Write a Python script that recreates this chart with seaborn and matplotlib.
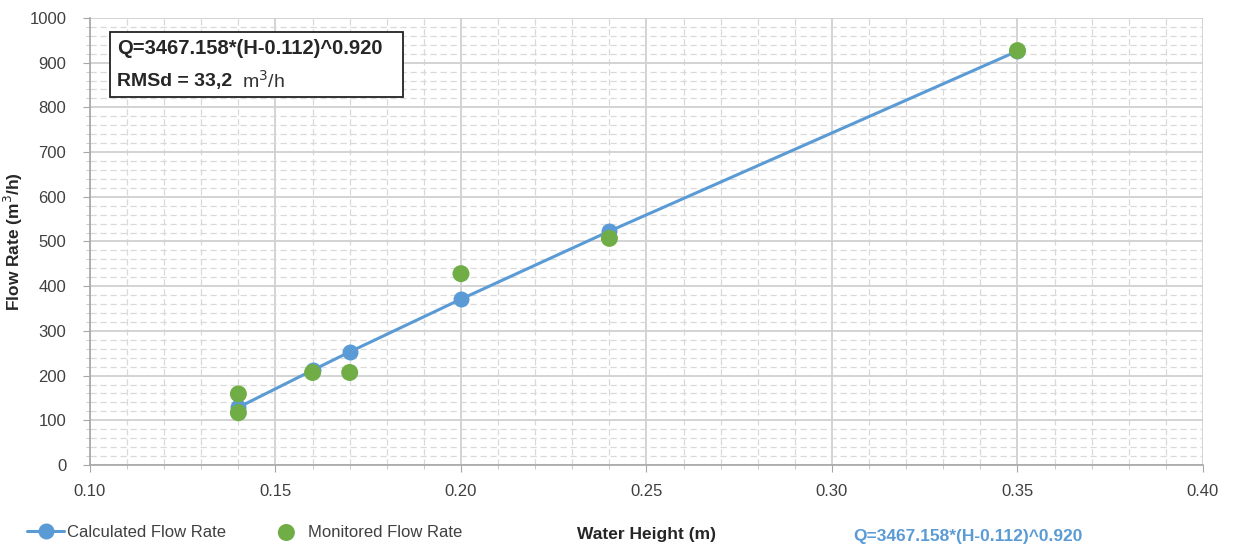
import pandas as pd
import matplotlib.pyplot as plt
import seaborn as sns
from matplotlib.ticker import MultipleLocator
from matplotlib.patches import Rectangle

# values
calc_height = [0.14, 0.16, 0.17, 0.20, 0.24, 0.35]
calc_flow = [129, 212, 253, 371, 523, 926]

mon_height = [0.14, 0.14, 0.16, 0.17, 0.20, 0.24, 0.35]
mon_flow = [159, 117, 207, 207, 428, 507, 927]

equation = "Q=3467.158*(H-0.112)^0.920"
rmsd_text = "RMSd = 33,2"

BLUE = "#5B9BD5"
GREEN = "#70AD47"


def main():
    sns.set_style("white")
    plt.rcParams['font.family'] = ['Liberation Sans', 'DejaVu Sans']

    calc_df = pd.DataFrame({"height": calc_height, "flow": calc_flow})
    mon_df = pd.DataFrame({"height": mon_height, "flow": mon_flow})

    fig = plt.figure(figsize=(12.36, 5.44), dpi=100)
    ax = fig.add_axes([0.0728, 0.1452, 0.9005, 0.8218])

    sns.lineplot(data=calc_df, x="height", y="flow", ax=ax, color=BLUE, lw=2.2,
                 marker="o", markersize=11.5, markeredgewidth=0, sort=False,
                 label="Calculated Flow Rate", zorder=3)
    sns.scatterplot(data=mon_df, x="height", y="flow", ax=ax, color=GREEN, s=150,
                    edgecolor="none", label="Monitored Flow Rate", zorder=4)

    ax.set_xlim(0.10, 0.40)
    ax.set_ylim(0, 1000)
    ax.xaxis.set_major_locator(MultipleLocator(0.05))
    ax.xaxis.set_minor_locator(MultipleLocator(0.01))
    ax.yaxis.set_major_locator(MultipleLocator(100))
    ax.yaxis.set_minor_locator(MultipleLocator(20))
    ax.set_xticklabels([f"{v:.2f}" for v in ax.get_xticks()])

    ax.grid(which="major", color="#D0D0D0", lw=1.3, ls="-")
    ax.grid(which="minor", color="#D9D9D9", lw=0.9, ls=(0, (5, 3)))
    ax.set_axisbelow(True)
    for side in ["top", "right"]:
        ax.spines[side].set_visible(False)
    for side in ["left", "bottom"]:
        ax.spines[side].set_color("#A6A6A6")
        ax.spines[side].set_linewidth(1.2)
    ax.tick_params(axis="both", which="major", labelsize=12, length=5,
                   color="#A6A6A6", labelcolor="#404040", direction="out",
                   left=True, bottom=True)
    ax.tick_params(axis="x", which="major", pad=9)
    ax.tick_params(axis="y", which="major", pad=12)
    ax.tick_params(axis="both", which="minor", length=3, color="#C0C0C0",
                   direction="out", left=True, bottom=True)

    ax.set_xlabel("Water Height (m)", fontsize=12.5, fontweight="bold")
    ax.set_ylabel("Flow Rate (m$^3$/h)", fontsize=12.5, fontweight="bold")
    ax.xaxis.set_label_coords(0.5, -0.139)
    ax.yaxis.set_label_coords(-0.058, 0.5)

    ax.legend_.remove()
    handles, labels = ax.get_legend_handles_labels()
    fig.legend(handles, labels, loc="lower left", bbox_to_anchor=(0.01, -0.02),
               ncol=2, frameon=False, fontsize=12, handlelength=2.2,
               handletextpad=0.2, columnspacing=2.5, labelcolor="#404040")

    fig.text(0.69, 0.005, equation, color=BLUE, fontsize=12.5, fontweight="bold")

    # equation box in the upper left
    ax.add_patch(Rectangle((0.018, 0.823), 0.263, 0.146, transform=ax.transAxes,
                           fc="white", ec="#222222", lw=1.3, zorder=5))
    ax.text(0.0243, 0.931, equation, transform=ax.transAxes, fontsize=14.5,
            fontweight="bold", va="center", zorder=6)
    ax.text(0.0243, 0.858, rmsd_text, transform=ax.transAxes, fontsize=14,
            fontweight="bold", va="center", zorder=6)
    ax.text(0.1365, 0.860, "m$^3$/h", transform=ax.transAxes, fontsize=14,
            color="#333333", va="center", zorder=6)

    fig.savefig("out.png", dpi=100)


if __name__ == "__main__":
    main()
